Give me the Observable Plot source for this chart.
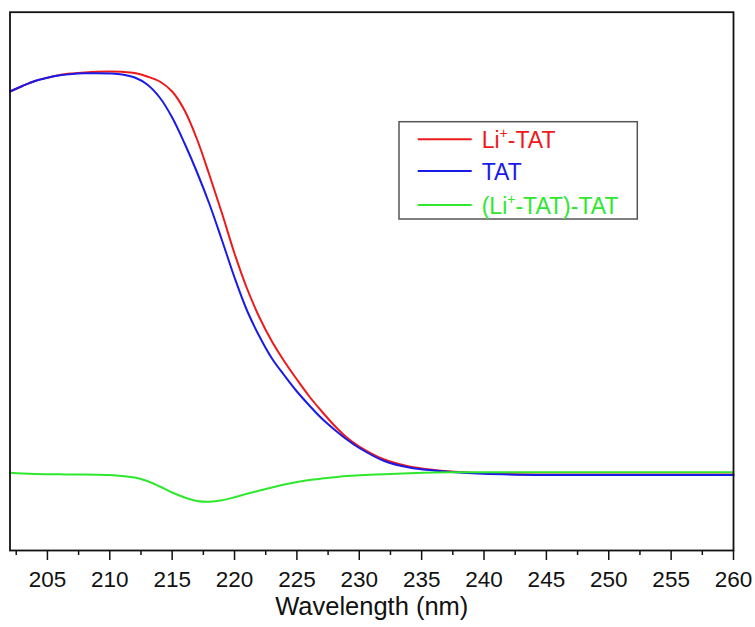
<!DOCTYPE html>
<html>
<head>
<meta charset="utf-8">
<script src="https://cdn.jsdelivr.net/npm/d3@7"></script>
<script src="https://cdn.jsdelivr.net/npm/@observablehq/plot@0.6"></script>
<style>
  html, body { margin: 0; padding: 0; background: #fff; }
  #chart svg { display: block; }
</style>
</head>
<body>
<div id="chart"></div>
<script>
const wavelengths = [202, 203, 204, 205, 206, 207, 208, 209, 210, 211, 212, 213, 214, 215, 216, 217, 218, 219, 220, 221, 222, 223, 224, 225, 226, 227, 228, 229, 230, 232, 234, 236, 238, 240, 245, 250, 255, 260];

const liTAT = [38.3, 38.85, 39.35, 39.68, 39.95, 40.1, 40.2, 40.27, 40.3, 40.27, 40.15, 39.8, 39.3, 38.3, 36.4, 33.5, 29.9, 26.1, 22.1, 18.6, 15.7, 13.3, 11.3, 9.5, 7.8, 6.3, 4.9, 3.7, 2.8, 1.5, 0.8, 0.45, 0.25, 0.12, 0.0, 0.0, 0.0, 0.0];

const tat = [38.3, 38.85, 39.35, 39.68, 39.92, 40.06, 40.12, 40.13, 40.1, 40.0, 39.7, 39.0, 37.7, 35.7, 33.1, 30.2, 27.0, 23.4, 19.7, 16.4, 13.8, 11.6, 9.9, 8.3, 6.9, 5.6, 4.5, 3.5, 2.65, 1.35, 0.7, 0.4, 0.2, 0.07, -0.05, -0.05, -0.05, -0.05];

const diffTAT = [0.17, 0.1, 0.05, 0.03, 0.02, 0.0, 0.0, -0.02, -0.06, -0.15, -0.3, -0.65, -1.2, -1.8, -2.3, -2.65, -2.73, -2.58, -2.28, -1.93, -1.6, -1.3, -1.0, -0.75, -0.55, -0.4, -0.27, -0.15, -0.08, 0.03, 0.13, 0.2, 0.22, 0.23, 0.23, 0.23, 0.23, 0.23];

const seriesNames = ["Li+-TAT", "TAT", "(Li+-TAT)-TAT"];
const seriesColors = ["#ee1a1a", "#1a1ae8", "#2ee82e"];
const majorTicks = [205, 210, 215, 220, 225, 230, 235, 240, 245, 250, 255, 260];
const minorTicks = [202.5, 207.5, 212.5, 217.5, 222.5, 227.5, 232.5, 237.5, 242.5, 247.5, 252.5, 257.5];
const xLabel = "Wavelength (nm)";

const seriesValues = [liTAT, tat, diffTAT];
const data = [];
seriesValues.forEach((vals, i) => {
  vals.forEach((v, j) => data.push({w: wavelengths[j], v, series: seriesNames[i]}));
});

const font = "'Liberation Sans', Arial, Helvetica, sans-serif";

const chart = Plot.plot({
  width: 755,
  height: 627,
  marginLeft: 9.5,
  marginRight: 22,
  marginTop: 11.7,
  marginBottom: 77,
  style: {fontFamily: font, background: "#fff", color: "#000"},
  x: {domain: [202, 260]},
  y: {domain: [-7.6, 46.23], axis: null},
  color: {domain: seriesNames, range: seriesColors},
  marks: [
    Plot.line(data, {x: "w", y: "v", z: "series", stroke: "series", strokeWidth: 2, curve: "catmull-rom"}),
    Plot.frame({stroke: "#111", strokeWidth: 1.8}),
    Plot.axisX(minorTicks, {tickSize: 5, text: null, label: null, strokeWidth: 1.5, stroke: "#111"}),
    Plot.axisX(majorTicks, {tickSize: 10, tickPadding: 11, fontSize: 22.5, label: null, strokeWidth: 1.5, stroke: "#111", fill: "#111"}),
    Plot.text([xLabel], {frameAnchor: "bottom", text: d => d, dy: 64, fontSize: 25.5, fill: "#111"})
  ]
});

document.getElementById("chart").appendChild(chart);

// Legend box
const svg = d3.select(chart);
const lg = svg.append("g").attr("font-family", font).attr("text-anchor", "start");
lg.append("rect")
  .attr("x", 399).attr("y", 121.7).attr("width", 238.3).attr("height", 97.3)
  .attr("fill", "#fff").attr("stroke", "#555").attr("stroke-width", 1.5);
const rowsY = [139.3, 171, 205];
seriesNames.forEach((name, i) => {
  const y = rowsY[i];
  lg.append("line")
    .attr("x1", 417.7).attr("x2", 471.7).attr("y1", y).attr("y2", y)
    .attr("stroke", seriesColors[i]).attr("stroke-width", 2);
  const t = lg.append("text")
    .attr("x", 481.7).attr("y", y + 8.5)
    .attr("text-anchor", "start")
    .attr("font-size", 23).attr("fill", seriesColors[i]);
  const parts = name.split("+");
  if (parts.length === 2) {
    t.append("tspan").text(parts[0]);
    t.append("tspan").attr("font-size", 14).attr("dy", -10).text("+");
    t.append("tspan").attr("dy", 10).text(parts[1]);
  } else {
    t.text(name);
  }
});
</script>
</body>
</html>
